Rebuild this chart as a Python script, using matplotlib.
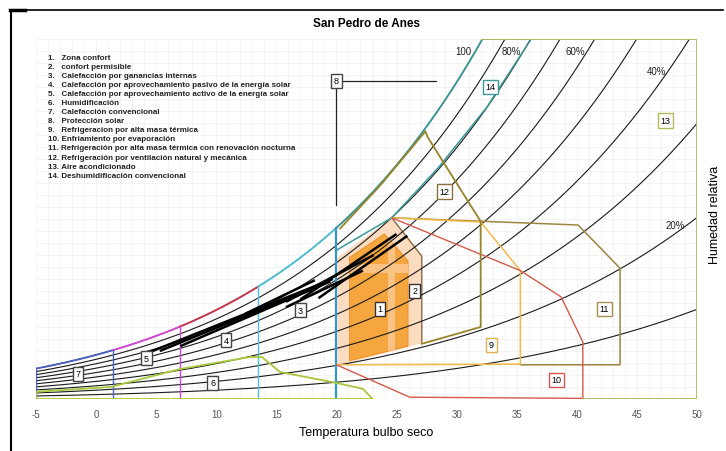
import numpy as np
import matplotlib.pyplot as plt
from matplotlib.patches import Polygon, Rectangle

plt.rcParams['font.family'] = ['Liberation Sans', 'DejaVu Sans']

# psychrometric frame
rh_levels = [10, 20, 30, 40, 50, 60, 70, 80, 90, 100]
rh_labels = {100: '100', 80: '80%', 60: '60%', 40: '40%', 20: '20%'}
x_ticks = [-5, 0, 5, 10, 15, 20, 25, 30, 35, 40, 45, 50]

# heating zones along the saturation curve (deg C limits)
heat_limits = [-5, 1.4, 7.0, 13.5, 20.0]
heat_colors = ['#4a5fc4', '#d645d6', '#c8334a', '#4cc3d4']
vline_colors = ['#4a5fc4', '#4a5fc4', '#d645d6', '#4cc3d4', '#3196cc']

# zones (temperature, humidity ratio g/kg)
zone1_t = [21.1, 24.0, 25.95, 25.95, 21.1]
zone1_w = [11.8, 13.75, 11.5, 4.4, 3.2]
zone2_t = [20.1, 24.6, 27.1, 27.1, 20.1]
zone2_w = [11.8, 15.1, 11.9, 4.65, 2.75]
zone6_t = [-5, -5, 1.2, 7.0, 12.8, 13.8, 15.3, 19.7, 22.2, 23.0, -5]
zone6_w = [0, 0.6, 1.0, 2.5, 3.5, 3.5, 2.25, 1.4, 0.85, 0, 0]
zone9_t = [24.6, 32.0, 35.3, 35.3, 20.0]
zone9_w = [15.1, 14.75, 10.7, 2.9, 2.85]
zone10_t = [24.6, 35.3, 38.7, 40.5, 40.5, 26.1, 20.0]
zone10_w = [15.1, 10.7, 8.5, 4.75, 0.05, 0.15, 2.85]
zone11_t = [24.6, 40.1, 43.6, 43.6, 35.3]
zone11_w = [15.1, 14.5, 10.9, 2.85, 2.85]
zone12_t = [20.3, 23.6, 27.4, 27.6, 32.0, 32.0, 27.1]
zone12_w = [14.2, 17.75, 22.3, 21.8, 14.8, 6.0, 4.6]
zone13_t = [32.15, 50, 50, 40.5]
zone13_w = [30, 30, 0, 0]
zone14_t = [20.0, 24.6, 28.5, 32.5, 36.2]
zone14_w = [12.4, 15.1, 19.3, 24.3, 30.0]
zone8_t = [28.3, 20.0, 20.0]
zone8_w = [26.5, 26.5, 16.2]

# monthly climate lines: (Tmin, Wmin) -> (Tmax, Wmax)
month_t0 = [4.2, 7.0, 12.4, 15.8, 15.8, 17.0, 18.5, 5.3]
month_w0 = [3.8, 4.4, 7.1, 7.65, 8.1, 8.3, 8.4, 4.0]
month_t1 = [19.7, 19.5, 18.2, 22.2, 23.1, 25.0, 25.9, 16.9]
month_w1 = [10.0, 9.8, 9.9, 10.7, 12.0, 13.75, 13.6, 8.75]

legend_items = [
    '1.   Zona confort',
    '2.   confort permisible',
    '3.   Calefacción por ganancias internas',
    '4.   Calefacción por aprovechamiento pasivo de la energía solar',
    '5.   Calefacción por aprovechamiento activo de la energía solar',
    '6.   Humidificación',
    '7.   Calefacción convencional',
    '8.   Protección solar',
    '9.   Refrigeracion por alta masa térmica',
    '10. Enfriamiento por evaporación',
    '11. Refrigeración por alta masa térmica con renovación nocturna',
    '12. Refrigeración por ventilación natural y mecánica',
    '13. Aire acondicionado',
    '14. Deshumidificación convencional',
]

# label boxes: number -> (T, W, edge colour)
boxes = {
    '1': (23.6, 7.5, '#333333'), '2': (26.5, 9.0, '#333333'),
    '3': (17.0, 7.4, '#444444'), '4': (10.8, 4.9, '#444444'),
    '5': (4.2, 3.4, '#444444'), '6': (9.7, 1.35, '#444444'),
    '7': (-1.5, 2.1, '#444444'), '8': (20.0, 26.5, '#444444'),
    '9': (32.9, 4.5, '#e0b050'), '10': (38.3, 1.6, '#d9534f'),
    '11': (42.3, 7.5, '#a89050'), '12': (29.0, 17.3, '#8a7040'),
    '13': (47.4, 23.2, '#b5b85a'), '14': (32.8, 26.0, '#3a9a9a'),
}


def w_rh(t, rh):
    pv = rh / 100.0 * 0.6112 * np.exp(17.62 * t / (243.12 + t))
    return 622.0 * pv / (104.0 - pv)


fig = plt.figure(figsize=(7.26, 4.52), dpi=100)
ax = fig.add_axes([36 / 726, 1 - 400 / 452, 661 / 726, 360 / 452])
ax.set_xlim(-5, 50)
ax.set_ylim(0, 30)

# faint grid
for gx in range(-5, 51):
    ax.axvline(gx, color='#f0f0f0', lw=0.5, zorder=0)
for gy in range(0, 31):
    ax.axhline(gy, color='#f0f0f0', lw=0.5, zorder=0)

# filled comfort zones
ax.add_patch(Polygon(list(zip(zone2_t, zone2_w)), closed=True, fc='#fcdcc0', ec='none', zorder=1))
ax.plot(zone2_t[1:4], zone2_w[1:4], color='#8a6a40', lw=1.0, zorder=3)
z1 = Polygon(list(zip(zone1_t, zone1_w)), closed=True, fc='#f6a63e', ec='#f0922a', lw=0.8, zorder=2)
ax.add_patch(z1)
for r in [Rectangle((24.3, 0), 0.55, 30), Rectangle((20, 10.5), 7, 0.75)]:
    r.set_facecolor('#fac386')
    r.set_edgecolor('none')
    r.set_zorder(2.1)
    r.set_clip_path(z1)
    ax.add_patch(r)

# relative humidity curves
t = np.linspace(-5, 50, 600)
for rh in rh_levels:
    w = w_rh(t, rh)
    ax.plot(t[w <= 30.5], w[w <= 30.5], color='#1a1a1a', lw=0.8, zorder=4)

# heating zones along the saturation curve
for i, c in enumerate(heat_colors):
    ts = np.linspace(heat_limits[i], heat_limits[i + 1], 50)
    ax.plot(ts, w_rh(ts, 100), color=c, lw=1.3, zorder=5)
for tv, c in zip(heat_limits, vline_colors):
    ax.plot([tv, tv], [0, w_rh(tv, 100)], color=c, lw=1.6 if tv == 20 else 1.0, zorder=5)

# zone 14 and top of saturation curve
ts = np.linspace(20, 32.3, 60)
ax.plot(ts, w_rh(ts, 100), color='#3a9a9a', lw=1.3, zorder=5)
ax.plot(zone14_t, zone14_w, color='#3a9a9a', lw=1.1, zorder=5)
ax.plot([32.15, 36.2], [30, 30], color='#3a9a9a', lw=1.1, zorder=5)

# other zones
ax.plot(zone6_t, zone6_w, color='#a8c83c', lw=1.3, zorder=5)
ax.plot(zone9_t, zone9_w, color='#f2b84b', lw=1.1, zorder=5)
ax.plot(zone11_t, zone11_w, color='#9d8540', lw=1.1, zorder=4.5)
ax.plot(zone10_t, zone10_w, color='#d45a48', lw=1.0, zorder=5)
ax.plot(zone12_t, zone12_w, color='#9a8428', lw=1.3, zorder=5)
ax.plot(zone13_t, zone13_w, color='#b5b85a', lw=1.3, zorder=5)
ax.plot(zone8_t, zone8_w, color='#222222', lw=0.9, zorder=5)

# monthly climate lines
for a, b, c, d in zip(month_t0, month_w0, month_t1, month_w1):
    ax.plot([a, c], [b, d], color='black', lw=1.8, zorder=6, solid_capstyle='butt')

# rh labels
for rh, txt in rh_labels.items():
    if rh >= 60:
        wv = 29.0
        tv = t[np.argmin(np.abs(w_rh(t, rh) - wv))] - 1.0
    elif rh == 40:
        wv = 27.3
        tv = t[np.argmin(np.abs(w_rh(t, rh) - wv))] - 1.0
    else:
        tv = 48.2
        wv = w_rh(tv, rh) + 0.7
    ax.text(tv, wv, txt, fontsize=7, color='#222222', ha='center', va='center', zorder=7)

for k, (bx, by, ec) in boxes.items():
    ax.text(bx, by, k, fontsize=6.5, ha='center', va='center', zorder=8,
            bbox=dict(boxstyle='square,pad=0.3', fc='white', ec=ec, lw=1.0))

for i, s in enumerate(legend_items):
    fig.text(48 / 726, 1 - (58 + i * 9.1) / 452, s, fontsize=5.8, fontweight='bold',
             color='#222222', va='center')

ax.set_xticks(x_ticks)
ax.set_xticklabels([str(v) for v in x_ticks], fontsize=7, color='#555555')
ax.tick_params(axis='x', length=0, pad=7)
ax.set_yticks([])
for s in ax.spines.values():
    s.set_visible(False)

ax.set_title('San Pedro de Anes', fontsize=8.5, fontweight='bold', pad=9)
ax.set_xlabel('Temperatura bulbo seco', fontsize=9, labelpad=5)
fig.text(715 / 726, 1 - 215 / 452, 'Humedad relativa', rotation=90, fontsize=9,
         ha='center', va='center')

# page frame
fig.add_artist(plt.Line2D([10 / 726, 723 / 726], [1 - 11 / 452, 1 - 11 / 452], color='black', lw=1.2))
fig.add_artist(plt.Line2D([11 / 726, 11 / 726], [0, 1 - 11 / 452], color='black', lw=1.5))
fig.add_artist(plt.Line2D([10 / 726, 25 / 726], [1 - 10.5 / 452, 1 - 10.5 / 452], color='black', lw=2.5))

fig.savefig('out.png', dpi=100)
